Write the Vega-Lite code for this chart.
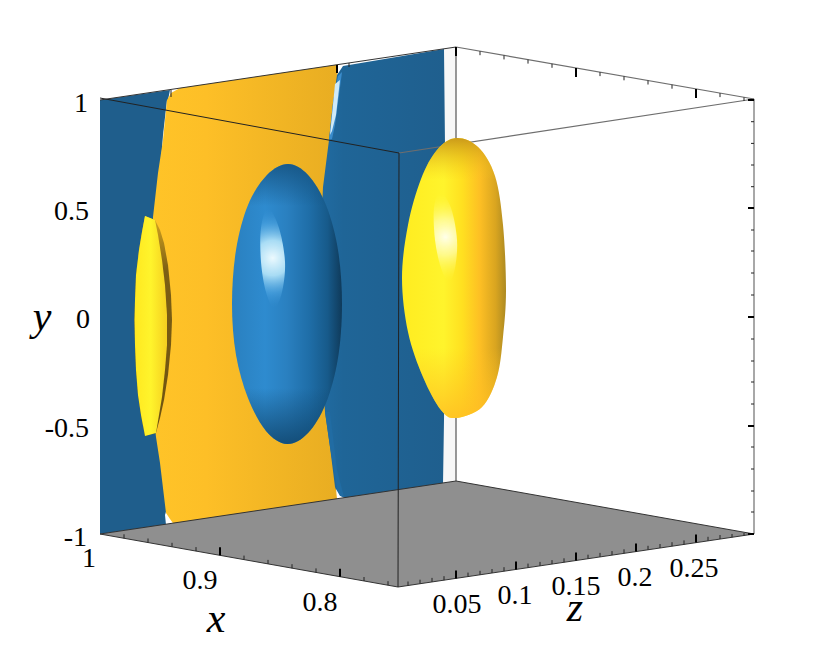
{"$schema":"https://vega.github.io/schema/vega-lite/v6.json","width":830,"height":653,"padding":0,"autosize":{"type":"none"},"background":"white","config":{"view":{"stroke":null}},
"datasets":{
"strip":[{"x":444,"y":49},{"x":456,"y":47},{"x":456,"y":481},{"x":443,"y":483}],
"wallL":[{"x":100,"y":100},{"x":170,"y":90},{"x":168,"y":100},{"x":168,"y":140},{"x":162,"y":173},{"x":157,"y":217},{"x":156,"y":300},{"x":157,"y":400},{"x":160,"y":437},{"x":164,"y":463},{"x":168,"y":505},{"x":165,"y":515},{"x":166,"y":525},{"x":100,"y":534}],
"wallO":[{"x":180,"y":88},{"x":338,"y":64.5},{"x":336,"y":103},{"x":332,"y":140},{"x":326,"y":187},{"x":321,"y":300},{"x":328,"y":412},{"x":333,"y":447},{"x":337,"y":487},{"x":337,"y":500},{"x":175,"y":526},{"x":170,"y":519},{"x":166,"y":513},{"x":160,"y":463},{"x":156,"y":437},{"x":152,"y":400},{"x":150,"y":300},{"x":153,"y":217},{"x":158,"y":173},{"x":163,"y":140},{"x":167,"y":100},{"x":171,"y":93}],
"wallR":[{"x":343,"y":66},{"x":444,"y":49},{"x":445,"y":146},{"x":445,"y":300},{"x":444,"y":420},{"x":443,"y":484},{"x":345,"y":499},{"x":338,"y":495},{"x":335,"y":487},{"x":330,"y":447},{"x":325,"y":412},{"x":318,"y":300},{"x":323,"y":187},{"x":329,"y":140},{"x":333,"y":103},{"x":337,"y":75}],
"wallRedgeTop":[{"x":338,"y":76},{"x":342,"y":72},{"x":339,"y":95},{"x":335,"y":125},{"x":332,"y":139},{"x":329,"y":140},{"x":333,"y":103}],
"wallRedgeLow":[{"x":325,"y":412},{"x":330,"y":412},{"x":337,"y":470},{"x":344,"y":497},{"x":338,"y":495},{"x":330,"y":447}],
"glintR":[{"x":335,"y":84},{"x":340,"y":80},{"x":336,"y":115},{"x":332,"y":131},{"x":330,"y":135}],
"glintL":[{"x":167,"y":100},{"x":168,"y":108},{"x":165,"y":135},{"x":161,"y":163},{"x":163,"y":135}],
"slip":[{"x":336,"y":489},{"x":340,"y":496},{"x":345,"y":498},{"x":337,"y":499}],
"floor":[{"x":100,"y":534},{"x":456,"y":481},{"x":754,"y":534},{"x":398,"y":587}],
"yellowL":[{"x":145,"y":216},{"x":155,"y":220},{"x":160,"y":230},{"x":164,"y":243},{"x":168,"y":265},{"x":171,"y":295},{"x":172,"y":320},{"x":171,"y":345},{"x":168,"y":375},{"x":164,"y":400},{"x":160,"y":418},{"x":156,"y":433},{"x":145,"y":436},{"x":141,"y":415},{"x":138,"y":395},{"x":136,"y":370},{"x":135,"y":345},{"x":134.5,"y":320},{"x":135,"y":300},{"x":136,"y":275},{"x":139,"y":250},{"x":142,"y":232}],
"yellowLface":[{"x":145,"y":216},{"x":155,"y":220},{"x":158,"y":235},{"x":162,"y":260},{"x":165,"y":285},{"x":167,"y":315},{"x":167,"y":345},{"x":165,"y":370},{"x":162,"y":397},{"x":159,"y":415},{"x":156,"y":433},{"x":145,"y":436},{"x":141,"y":415},{"x":138,"y":395},{"x":136,"y":370},{"x":135,"y":345},{"x":134.5,"y":320},{"x":135,"y":300},{"x":136,"y":275},{"x":139,"y":250},{"x":142,"y":232}],
"blueE":[{"x":288,"y":164},{"x":308,"y":175},{"x":326,"y":205},{"x":338,"y":250},{"x":342,"y":304},{"x":338,"y":358},{"x":326,"y":403},{"x":308,"y":433},{"x":287,"y":444},{"x":266,"y":431},{"x":248,"y":398},{"x":236,"y":355},{"x":232,"y":304},{"x":236,"y":250},{"x":248,"y":205},{"x":267,"y":175}],
"blueHi":[{"x":268,"y":208},{"x":279,"y":228},{"x":285,"y":262},{"x":282,"y":292},{"x":274,"y":308},{"x":266,"y":292},{"x":261,"y":262},{"x":261,"y":228}],
"yellowE":[{"x":456,"y":138},{"x":478,"y":147},{"x":495,"y":176},{"x":503,"y":225},{"x":506,"y":290},{"x":503,"y":337},{"x":497,"y":377},{"x":482,"y":407},{"x":456,"y":418},{"x":441,"y":410},{"x":423,"y":377},{"x":408,"y":332},{"x":402,"y":278},{"x":408,"y":225},{"x":421,"y":179},{"x":437,"y":150}],
"yellowHi":[{"x":440,"y":192},{"x":451,"y":208},{"x":457,"y":240},{"x":455,"y":268},{"x":449,"y":282},{"x":441,"y":268},{"x":435,"y":240},{"x":434,"y":208}],
"edges":[{"x":100,"y":100,"x2":456,"y2":47},{"x":456,"y":47,"x2":456,"y2":139},{"x":456,"y":418,"x2":456,"y2":481},{"x":100,"y":534,"x2":456,"y2":481},{"x":456,"y":481,"x2":754,"y2":534},{"x":100,"y":534,"x2":398,"y2":587},{"x":398,"y":587,"x2":754,"y2":534}],
"edgesGray":[{"x":456,"y":47,"x2":754,"y2":99},{"x":399,"y":153,"x2":754,"y2":99},{"x":754,"y":99,"x2":754,"y2":534}],
"front":[{"x":100,"y":98,"x2":399,"y2":153},{"x":399,"y":153,"x2":398,"y2":587}],
"minor":[
{"x":171,"y":90,"x2":171,"y2":97},{"x":349,"y":63,"x2":349,"y2":67},
{"x":480,"y":51.2,"x2":480,"y2":55.2},{"x":504,"y":55.4,"x2":504,"y2":59.4},{"x":528,"y":59.6,"x2":528,"y2":63.6},{"x":552,"y":63.8,"x2":552,"y2":67.8},{"x":600,"y":72.1,"x2":600,"y2":76.1},{"x":624,"y":76.3,"x2":624,"y2":80.3},{"x":648,"y":80.5,"x2":648,"y2":84.5},{"x":672,"y":84.7,"x2":672,"y2":88.7},{"x":720,"y":93.1,"x2":720,"y2":97.1},{"x":744,"y":97.3,"x2":744,"y2":101},
{"x":124,"y":538.3,"x2":124,"y2":534.3},{"x":148,"y":542.5,"x2":148,"y2":538.5},{"x":172,"y":546.8,"x2":172,"y2":542.8},{"x":196,"y":551.1,"x2":196,"y2":547.1},{"x":244,"y":559.6,"x2":244,"y2":555.6},{"x":268,"y":563.9,"x2":268,"y2":559.9},{"x":292,"y":568.2,"x2":292,"y2":564.2},{"x":316,"y":572.4,"x2":316,"y2":568.4},{"x":364,"y":581,"x2":364,"y2":577},{"x":388,"y":585.2,"x2":388,"y2":581.2},
{"x":408,"y":585.5,"x2":408,"y2":581.5},{"x":420,"y":583.7,"x2":420,"y2":579.7},{"x":432,"y":581.9,"x2":432,"y2":577.9},{"x":444,"y":580.2,"x2":444,"y2":576.2},{"x":468,"y":576.6,"x2":468,"y2":572.6},{"x":480,"y":574.8,"x2":480,"y2":570.8},{"x":492,"y":573,"x2":492,"y2":569},{"x":504,"y":571.2,"x2":504,"y2":567.2},{"x":528,"y":567.6,"x2":528,"y2":563.6},{"x":540,"y":565.9,"x2":540,"y2":561.9},{"x":552,"y":564.1,"x2":552,"y2":560.1},{"x":564,"y":562.3,"x2":564,"y2":558.3},{"x":588,"y":558.7,"x2":588,"y2":554.7},{"x":600,"y":556.9,"x2":600,"y2":552.9},{"x":612,"y":555.1,"x2":612,"y2":551.1},{"x":624,"y":553.3,"x2":624,"y2":549.3},{"x":648,"y":549.8,"x2":648,"y2":545.8},{"x":660,"y":548,"x2":660,"y2":544},{"x":672,"y":546.2,"x2":672,"y2":542.2},{"x":684,"y":544.4,"x2":684,"y2":540.4},{"x":708,"y":540.8,"x2":708,"y2":536.8},{"x":720,"y":539,"x2":720,"y2":535},{"x":732,"y":537.3,"x2":732,"y2":534},{"x":744,"y":535.5,"x2":744,"y2":533},
{"x":754,"y":121.7,"x2":751,"y2":121.7},{"x":754,"y":143.4,"x2":751,"y2":143.4},{"x":754,"y":165,"x2":751,"y2":165},{"x":754,"y":186.7,"x2":751,"y2":186.7},{"x":754,"y":230,"x2":751,"y2":230},{"x":754,"y":251,"x2":751,"y2":251},{"x":754,"y":273,"x2":751,"y2":273},{"x":754,"y":295,"x2":751,"y2":295},{"x":754,"y":339,"x2":751,"y2":339},{"x":754,"y":361,"x2":751,"y2":361},{"x":754,"y":382,"x2":751,"y2":382},{"x":754,"y":404,"x2":751,"y2":404},{"x":754,"y":447,"x2":751,"y2":447},{"x":754,"y":469,"x2":751,"y2":469},{"x":754,"y":491,"x2":751,"y2":491},{"x":754,"y":512,"x2":751,"y2":512}],
"major":[
{"x":337,"y":65,"x2":337,"y2":73},{"x":456,"y":47,"x2":456,"y2":56},{"x":576,"y":67.9,"x2":576,"y2":76.9},{"x":696,"y":88.9,"x2":696,"y2":97.9},
{"x":220,"y":555.3,"x2":220,"y2":547.3},{"x":340,"y":576.7,"x2":340,"y2":568.7},
{"x":456,"y":578.4,"x2":456,"y2":570.4},{"x":516,"y":569.4,"x2":516,"y2":561.4},{"x":576,"y":560.5,"x2":576,"y2":552.5},{"x":636,"y":551.6,"x2":636,"y2":543.6},{"x":696,"y":542.6,"x2":696,"y2":534.6},
{"x":754,"y":100,"x2":748,"y2":100},{"x":754,"y":208,"x2":748,"y2":208},{"x":754,"y":317,"x2":748,"y2":317},{"x":754,"y":426,"x2":748,"y2":426},{"x":754,"y":534,"x2":748,"y2":534}],
"rightLabels":[{"x":88,"y":112,"label":"1"},{"x":89,"y":220,"label":"0.5"},{"x":90,"y":328,"label":"0"},{"x":89,"y":437,"label":"-0.5"},{"x":87,"y":546,"label":"-1"},{"x":96,"y":567,"label":"1"}],
"centerLabels":[{"x":200,"y":589,"label":"0.9"},{"x":320,"y":611,"label":"0.8"},{"x":457,"y":613,"label":"0.05"},{"x":515,"y":604,"label":"0.1"},{"x":576,"y":595,"label":"0.15"},{"x":635,"y":586,"label":"0.2"},{"x":694,"y":577,"label":"0.25"}],
"titles":[{"x":216,"y":632,"label":"x"},{"x":42,"y":330,"label":"y"},{"x":575,"y":621,"label":"z"}]
},
"encoding":{"x":{"field":"x","type":"quantitative","axis":null,"scale":{"domain":[0,830],"nice":false,"zero":false}},"y":{"field":"y","type":"quantitative","axis":null,"scale":{"domain":[0,653],"reverse":true,"nice":false,"zero":false}}},
"layer":[
{"data":{"name":"strip"},"mark":{"type":"line","fill":"#f7f7f7","stroke":null,"interpolate":"linear-closed"},"encoding":{"order":{"value":null}}},
{"data":{"name":"wallL"},"mark":{"type":"line","fill":"#1f5e8c","stroke":null,"interpolate":"linear-closed"},"encoding":{"order":{"value":null}}},
{"data":{"name":"glintL"},"mark":{"type":"line","fill":"#ffffff","stroke":null,"interpolate":"linear-closed"},"encoding":{"order":{"value":null}}},
{"data":{"name":"wallO"},"mark":{"type":"line","fill":{"gradient":"linear","x1":0,"x2":1,"y1":0,"y2":0,"stops":[{"offset":0,"color":"#ffc428"},{"offset":0.3,"color":"#fdbf27"},{"offset":1,"color":"#e8ad22"}]},"stroke":null,"interpolate":"linear-closed"},"encoding":{"order":{"value":null}}},
{"data":{"name":"wallR"},"mark":{"type":"line","fill":{"gradient":"linear","x1":0,"x2":1,"y1":0,"y2":0,"stops":[{"offset":0,"color":"#216ca3"},{"offset":0.2,"color":"#1f6597"},{"offset":1,"color":"#1f5f8e"}]},"stroke":null,"interpolate":"linear-closed"},"encoding":{"order":{"value":null}}},
{"data":{"name":"wallRedgeTop"},"mark":{"type":"line","fill":"#3a8ccc","stroke":null,"interpolate":"linear-closed"},"encoding":{"order":{"value":null}}},
{"data":{"name":"wallRedgeLow"},"mark":{"type":"line","fill":"#216ca3","stroke":null,"interpolate":"linear-closed"},"encoding":{"order":{"value":null}}},
{"data":{"name":"glintR"},"mark":{"type":"line","fill":"#cfeaf8","stroke":null,"interpolate":"linear-closed"},"encoding":{"order":{"value":null}}},
{"data":{"name":"slip"},"mark":{"type":"line","fill":"#ffffff","stroke":null,"interpolate":"linear-closed"},"encoding":{"order":{"value":null}}},
{"data":{"name":"floor"},"mark":{"type":"line","fill":"#8f8f8f","stroke":null,"interpolate":"linear-closed"},"encoding":{"order":{"value":null}}},
{"data":{"name":"edges"},"mark":{"type":"rule","color":"#333333","strokeWidth":1},"encoding":{"x2":{"field":"x2"},"y2":{"field":"y2"}}},
{"data":{"name":"edgesGray"},"mark":{"type":"rule","color":"#6e6e6e","strokeWidth":1.2},"encoding":{"x2":{"field":"x2"},"y2":{"field":"y2"}}},
{"data":{"name":"minor"},"mark":{"type":"rule","color":"#222222","strokeWidth":1},"encoding":{"x2":{"field":"x2"},"y2":{"field":"y2"}}},
{"data":{"name":"major"},"mark":{"type":"rule","color":"#000000","strokeWidth":2},"encoding":{"x2":{"field":"x2"},"y2":{"field":"y2"}}},
{"data":{"name":"yellowL"},"mark":{"type":"line","fill":{"gradient":"linear","x1":0,"x2":0,"y1":0,"y2":1,"stops":[{"offset":0,"color":"#d8a820"},{"offset":0.25,"color":"#7d5f14"},{"offset":1,"color":"#6d5210"}]},"stroke":null,"interpolate":"linear-closed"},"encoding":{"order":{"value":null}}},
{"data":{"name":"yellowLface"},"mark":{"type":"line","fill":{"gradient":"linear","x1":0,"x2":1,"y1":0,"y2":0,"stops":[{"offset":0,"color":"#ffe820"},{"offset":0.5,"color":"#fff42c"},{"offset":1,"color":"#f5cf20"}]},"stroke":null,"interpolate":"linear-closed"},"encoding":{"order":{"value":null}}},
{"data":{"name":"blueE"},"mark":{"type":"line","fill":{"gradient":"linear","x1":0,"x2":1,"y1":0,"y2":0,"stops":[{"offset":0,"color":"#2a80bf"},{"offset":0.3,"color":"#2e8bcf"},{"offset":0.5,"color":"#2a80c0"},{"offset":0.7,"color":"#1f6ea8"},{"offset":0.87,"color":"#175a8a"},{"offset":1,"color":"#0f3a5a"}]},"stroke":null,"interpolate":"cardinal-closed"},"encoding":{"order":{"value":null}}},
{"data":{"name":"blueE"},"mark":{"type":"line","fill":{"gradient":"linear","x1":0,"x2":0,"y1":0,"y2":1,"stops":[{"offset":0,"color":"rgba(20,80,125,0.8)"},{"offset":0.15,"color":"rgba(20,80,125,0)"},{"offset":0.8,"color":"rgba(16,70,110,0)"},{"offset":1,"color":"rgba(16,70,110,0.85)"}]},"stroke":null,"interpolate":"cardinal-closed"},"encoding":{"order":{"value":null}}},
{"data":{"name":"blueHi"},"mark":{"type":"line","fill":{"gradient":"radial","x1":0.5,"y1":0.5,"r1":0,"x2":0.5,"y2":0.5,"r2":0.5,"stops":[{"offset":0,"color":"rgba(240,252,255,0.98)"},{"offset":0.35,"color":"rgba(190,235,252,0.85)"},{"offset":0.7,"color":"rgba(90,175,232,0.45)"},{"offset":1,"color":"rgba(50,140,210,0)"}]},"stroke":null,"interpolate":"cardinal-closed"},"encoding":{"order":{"value":null}}},
{"data":{"name":"yellowE"},"mark":{"type":"line","fill":{"gradient":"linear","x1":0,"x2":1,"y1":0,"y2":0,"stops":[{"offset":0,"color":"#ffec20"},{"offset":0.4,"color":"#fff42c"},{"offset":0.58,"color":"#ffe020"},{"offset":0.75,"color":"#fdbf24"},{"offset":0.9,"color":"#d9a520"},{"offset":1,"color":"#ad8a22"}]},"stroke":null,"interpolate":"cardinal-closed"},"encoding":{"order":{"value":null}}},
{"data":{"name":"yellowE"},"mark":{"type":"line","fill":{"gradient":"linear","x1":0,"x2":0,"y1":0,"y2":1,"stops":[{"offset":0,"color":"rgba(200,150,25,0.95)"},{"offset":0.15,"color":"rgba(245,200,30,0)"},{"offset":0.75,"color":"rgba(255,195,35,0)"},{"offset":1,"color":"rgba(255,190,35,0.85)"}]},"stroke":null,"interpolate":"cardinal-closed"},"encoding":{"order":{"value":null}}},
{"data":{"name":"yellowHi"},"mark":{"type":"line","fill":{"gradient":"radial","x1":0.5,"y1":0.5,"r1":0,"x2":0.5,"y2":0.5,"r2":0.5,"stops":[{"offset":0,"color":"rgba(255,255,238,0.98)"},{"offset":0.4,"color":"rgba(255,253,170,0.75)"},{"offset":1,"color":"rgba(255,245,50,0)"}]},"stroke":null,"interpolate":"cardinal-closed"},"encoding":{"order":{"value":null}}},
{"data":{"name":"front"},"mark":{"type":"rule","color":"#222222","strokeWidth":1},"encoding":{"x2":{"field":"x2"},"y2":{"field":"y2"}}},
{"data":{"name":"rightLabels"},"mark":{"type":"text","font":"Liberation Serif","fontSize":28,"align":"right","baseline":"alphabetic","color":"#000000"},"encoding":{"text":{"field":"label"}}},
{"data":{"name":"centerLabels"},"mark":{"type":"text","font":"Liberation Serif","fontSize":28,"align":"center","baseline":"alphabetic","color":"#000000"},"encoding":{"text":{"field":"label"}}},
{"data":{"name":"titles"},"mark":{"type":"text","font":"Liberation Serif","fontStyle":"italic","fontSize":42,"align":"center","baseline":"alphabetic","color":"#000000"},"encoding":{"text":{"field":"label"}}}
]}
